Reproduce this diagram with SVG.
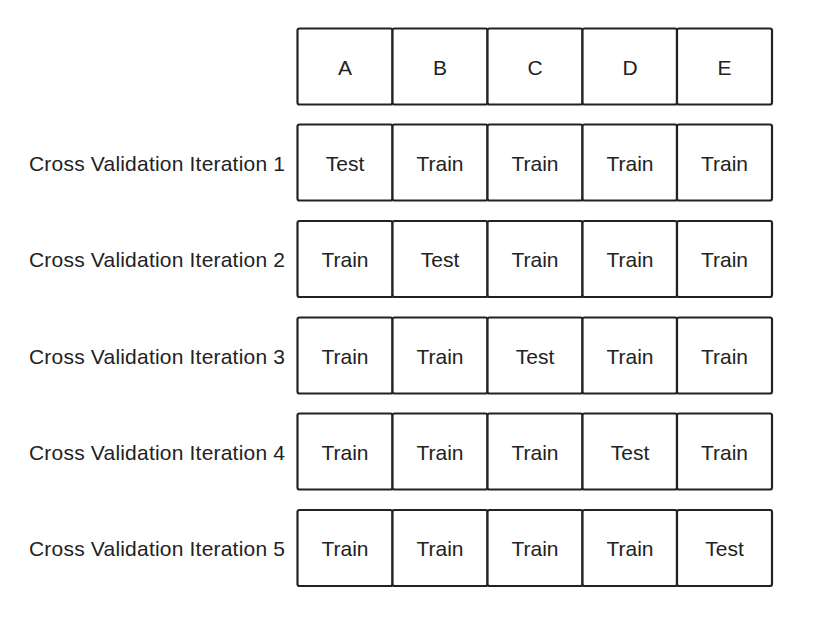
<svg xmlns="http://www.w3.org/2000/svg" width="822" height="623" viewBox="0 0 822 623">
<style>
.c{fill:#fff;stroke:#222;stroke-width:2.2}
.t{font-family:"Liberation Sans",Arial,sans-serif;font-size:21px;fill:#222;text-anchor:middle}
.l{font-family:"Liberation Sans",Arial,sans-serif;font-size:21px;fill:#222;text-anchor:end}
</style>
<rect width="822" height="623" fill="#fff"/>
<defs>
<g id="row">
<rect class="c" x="297.5" y="0" width="95" height="76" rx="2"/>
<rect class="c" x="392.5" y="0" width="95" height="76" rx="2"/>
<rect class="c" x="487.5" y="0" width="95" height="76" rx="2"/>
<rect class="c" x="582.5" y="0" width="94.5" height="76" rx="2"/>
<rect class="c" x="677" y="0" width="95" height="76" rx="2"/>
</g>
</defs>
<g id="header" transform="translate(0,28.5)">
<use href="#row"/>
<text class="t" x="345" y="46">A</text>
<text class="t" x="440" y="46">B</text>
<text class="t" x="535" y="46">C</text>
<text class="t" x="630" y="46">D</text>
<text class="t" x="724.5" y="46">E</text>
</g>
<g id="iter1" transform="translate(0,124.5)">
<use href="#row"/>
<text class="l" x="285" y="46" textLength="256" lengthAdjust="spacing">Cross Validation Iteration 1</text>
<text class="t" x="345" y="46">Test</text>
<text class="t" x="440" y="46">Train</text>
<text class="t" x="535" y="46">Train</text>
<text class="t" x="630" y="46">Train</text>
<text class="t" x="724.5" y="46">Train</text>
</g>
<g id="iter2" transform="translate(0,221)">
<use href="#row"/>
<text class="l" x="285" y="46" textLength="256" lengthAdjust="spacing">Cross Validation Iteration 2</text>
<text class="t" x="345" y="46">Train</text>
<text class="t" x="440" y="46">Test</text>
<text class="t" x="535" y="46">Train</text>
<text class="t" x="630" y="46">Train</text>
<text class="t" x="724.5" y="46">Train</text>
</g>
<g id="iter3" transform="translate(0,317.5)">
<use href="#row"/>
<text class="l" x="285" y="46" textLength="256" lengthAdjust="spacing">Cross Validation Iteration 3</text>
<text class="t" x="345" y="46">Train</text>
<text class="t" x="440" y="46">Train</text>
<text class="t" x="535" y="46">Test</text>
<text class="t" x="630" y="46">Train</text>
<text class="t" x="724.5" y="46">Train</text>
</g>
<g id="iter4" transform="translate(0,413.5)">
<use href="#row"/>
<text class="l" x="285" y="46" textLength="256" lengthAdjust="spacing">Cross Validation Iteration 4</text>
<text class="t" x="345" y="46">Train</text>
<text class="t" x="440" y="46">Train</text>
<text class="t" x="535" y="46">Train</text>
<text class="t" x="630" y="46">Test</text>
<text class="t" x="724.5" y="46">Train</text>
</g>
<g id="iter5" transform="translate(0,510)">
<use href="#row"/>
<text class="l" x="285" y="46" textLength="256" lengthAdjust="spacing">Cross Validation Iteration 5</text>
<text class="t" x="345" y="46">Train</text>
<text class="t" x="440" y="46">Train</text>
<text class="t" x="535" y="46">Train</text>
<text class="t" x="630" y="46">Train</text>
<text class="t" x="724.5" y="46">Test</text>
</g>
<g id="connectors"/>
</svg>
